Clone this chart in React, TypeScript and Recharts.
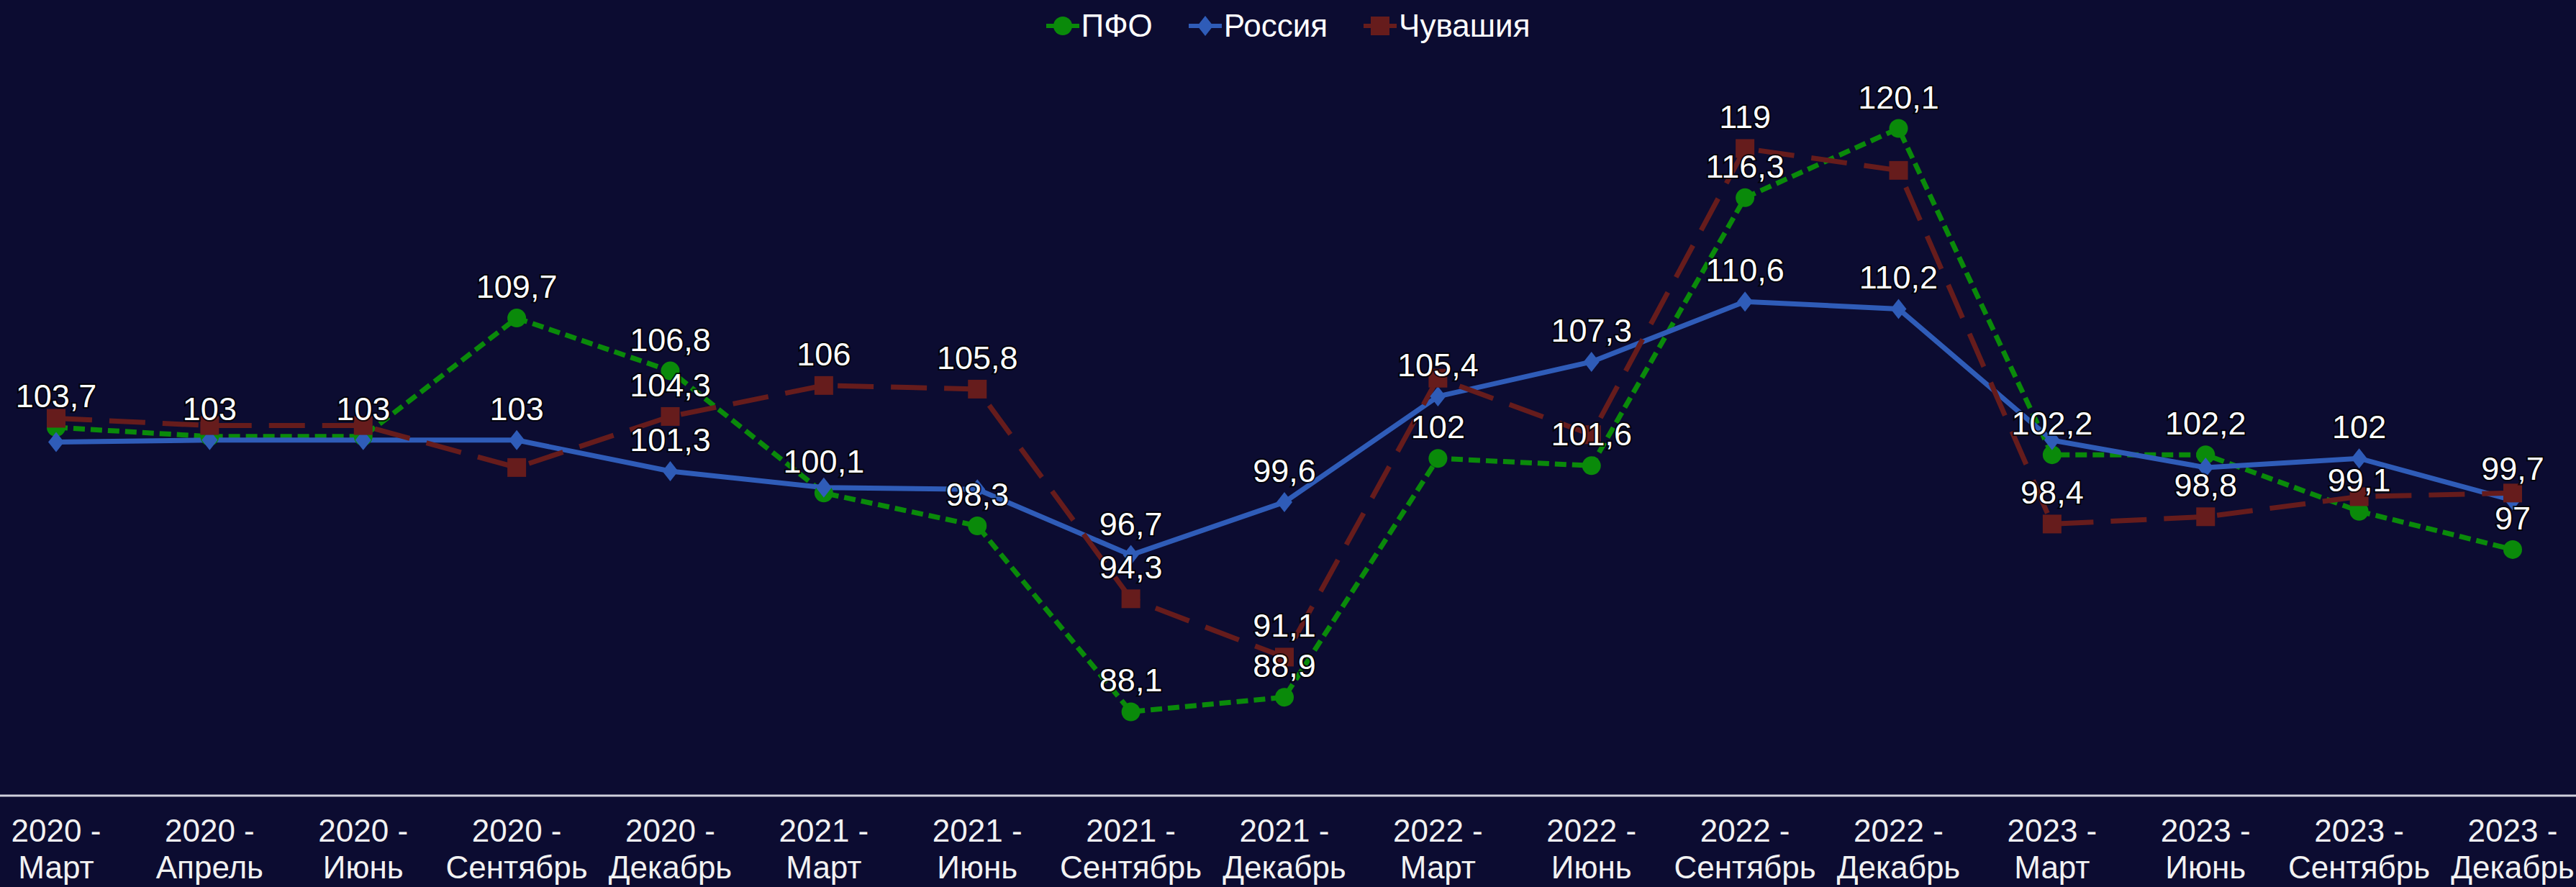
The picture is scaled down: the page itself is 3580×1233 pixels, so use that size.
import React from 'react';
import { LineChart, Line, XAxis, YAxis, Legend, LabelList } from 'recharts';

// periods (year - month)
const categories = [
    '2020 - Март', '2020 - Апрель', '2020 - Июнь', '2020 - Сентябрь', '2020 - Декабрь',
    '2021 - Март', '2021 - Июнь', '2021 - Сентябрь', '2021 - Декабрь',
    '2022 - Март', '2022 - Июнь', '2022 - Сентябрь', '2022 - Декабрь',
    '2023 - Март', '2023 - Июнь', '2023 - Сентябрь', '2023 - Декабрь',
];

const pfo = [103.7, 103.2, 103.2, 109.7, 106.8, 100.1, 98.3, 88.1, 88.9, 102, 101.6, 116.3, 120.1, 102.2, 102.2, 99.1, 97];
const russia = [102.9, 103, 103, 103, 101.3, 100.4, 100.3, 96.7, 99.6, 105.4, 107.3, 110.6, 110.2, 103.0, 101.5, 102, 99.7];
const chuvashia = [104.2, 103.8, 103.8, 101.5, 104.3, 106, 105.8, 94.3, 91.1, 106.4, 103.3, 119, 117.8, 98.4, 98.8, 99.9, 100.1];

// which data labels are visible in the original (others hidden by overlap)
const pfoLabels = [1, 0, 0, 1, 1, 1, 1, 1, 1, 1, 1, 1, 1, 1, 1, 1, 1];
const russiaLabels = [0, 1, 1, 1, 1, 0, 0, 1, 1, 1, 1, 1, 1, 0, 0, 1, 1];
const chuvashiaLabels = [0, 0, 0, 0, 1, 1, 1, 1, 1, 0, 0, 1, 0, 1, 1, 0, 0];

const colors = {
    bg: '#0c0c31',
    pfo: '#0a8a0a',
    russia: '#2f5cb8',
    chuv: '#661c1c',
    axis: '#d0d0dc',
};

const FONT = '"Liberation Sans", Arial, sans-serif';
const PAD_LEFT = 78;
const PAD_RIGHT = 88;

const data = categories.map((c, i) => ({
    name: c,
    pfo: pfo[i],
    russia: russia[i],
    chuv: chuvashia[i],
}));

const fmt = (v: number) => String(v).replace('.', ',');

const CircleDot = (props: any) => {
    const { cx, cy } = props;
    if (cx == null || cy == null) return null;
    return <circle cx={cx} cy={cy} r={13} fill={colors.pfo} />;
};

const DiamondDot = (props: any) => {
    const { cx, cy } = props;
    if (cx == null || cy == null) return null;
    return <polygon points={`${cx},${cy - 14} ${cx + 11},${cy} ${cx},${cy + 14} ${cx - 11},${cy}`} fill={colors.russia} />;
};

const SquareDot = (props: any) => {
    const { cx, cy } = props;
    if (cx == null || cy == null) return null;
    return <rect x={cx - 13} y={cy - 13} width={26} height={26} fill={colors.chuv} />;
};

const makeLabel = (shown: number[]) => (props: any) => {
    const { x, y, value } = props;
    let index = props.index;
    if (index == null) index = Math.round((x - PAD_LEFT) / ((3580 - PAD_LEFT - PAD_RIGHT) / 16));
    if (!shown[index] || value == null) return null;
    return (
        <text
            x={x}
            y={y - 28}
            textAnchor='middle'
            fill='#ffffff'
            stroke='#000000'
            strokeWidth={4}
            strokeOpacity={0.8}
            paintOrder='stroke'
            fontSize={45}
            fontFamily={FONT}
        >
            {fmt(value)}
        </text>
    );
};

const Tick = (props: any) => {
    const { x, y, payload } = props;
    const [year, month] = String(payload.value).split(' - ');
    return (
        <text x={x} textAnchor='middle' fill='#f2f2f2' fontSize={44} fontFamily={FONT}>
            <tspan x={x} y={y + 62}>{year + ' -'}</tspan>
            <tspan x={x} y={y + 113}>{month}</tspan>
        </text>
    );
};

const legendItems = [
    { name: 'ПФО', color: colors.pfo, shape: 'circle' },
    { name: 'Россия', color: colors.russia, shape: 'diamond' },
    { name: 'Чувашия', color: colors.chuv, shape: 'square' },
];

const LegendContent = () => (
    <div style={{ display: 'flex', justifyContent: 'center', alignItems: 'center', height: 60 }}>
        {legendItems.map((it, i) => (
            <div key={it.name} style={{ display: 'flex', alignItems: 'center', marginLeft: i === 0 ? 0 : 50 }}>
                <svg width={46} height={30}>
                    <line x1={0} y1={15} x2={46} y2={15} stroke={it.color} strokeWidth={6} />
                    {it.shape === 'circle' && <circle cx={23} cy={15} r={13} fill={it.color} />}
                    {it.shape === 'diamond' && <polygon points='23,1 34,15 23,29 12,15' fill={it.color} />}
                    {it.shape === 'square' && <rect x={10} y={2} width={26} height={26} fill={it.color} />}
                </svg>
                <span style={{ color: '#ffffff', fontSize: 44, fontFamily: FONT, marginLeft: 3, lineHeight: '60px' }}>{it.name}</span>
            </div>
        ))}
    </div>
);

export default function App() {
    return (
        <div style={{ width: 3580, height: 1233, background: colors.bg }}>
            <style>{`body{margin:0;background:${colors.bg};}`}</style>
            <LineChart width={3580} height={1233} data={data} margin={{ top: 40, right: 0, left: 0, bottom: 0 }}>
                <XAxis
                    dataKey='name'
                    interval={0}
                    height={127}
                    padding={{ left: PAD_LEFT, right: PAD_RIGHT }}
                    axisLine={{ stroke: colors.axis, strokeWidth: 3 }}
                    tickLine={false}
                    tickSize={0}
                    tick={<Tick />}
                />
                <YAxis hide type='number' domain={[83.5, 123.2]} allowDataOverflow />
                <Legend verticalAlign='top' align='center' height={60} wrapperStyle={{ top: 6 }} content={() => <LegendContent />} />

                <Line type='linear' dataKey='pfo' name='ПФО' stroke={colors.pfo} strokeWidth={7} strokeDasharray='16 8'
                    dot={<CircleDot />} activeDot={false} isAnimationActive={false} />
                <Line type='linear' dataKey='russia' name='Россия' stroke={colors.russia} strokeWidth={7}
                    dot={<DiamondDot />} activeDot={false} isAnimationActive={false} />
                <Line type='linear' dataKey='chuv' name='Чувашия' stroke={colors.chuv} strokeWidth={7} strokeDasharray='50 24'
                    dot={<SquareDot />} activeDot={false} isAnimationActive={false} />

                {/* label layers on top of every line */}
                <Line dataKey='pfo' stroke='none' dot={false} activeDot={false} legendType='none' isAnimationActive={false}>
                    <LabelList dataKey='pfo' content={makeLabel(pfoLabels)} />
                </Line>
                <Line dataKey='russia' stroke='none' dot={false} activeDot={false} legendType='none' isAnimationActive={false}>
                    <LabelList dataKey='russia' content={makeLabel(russiaLabels)} />
                </Line>
                <Line dataKey='chuv' stroke='none' dot={false} activeDot={false} legendType='none' isAnimationActive={false}>
                    <LabelList dataKey='chuv' content={makeLabel(chuvashiaLabels)} />
                </Line>
            </LineChart>
        </div>
    );
}
